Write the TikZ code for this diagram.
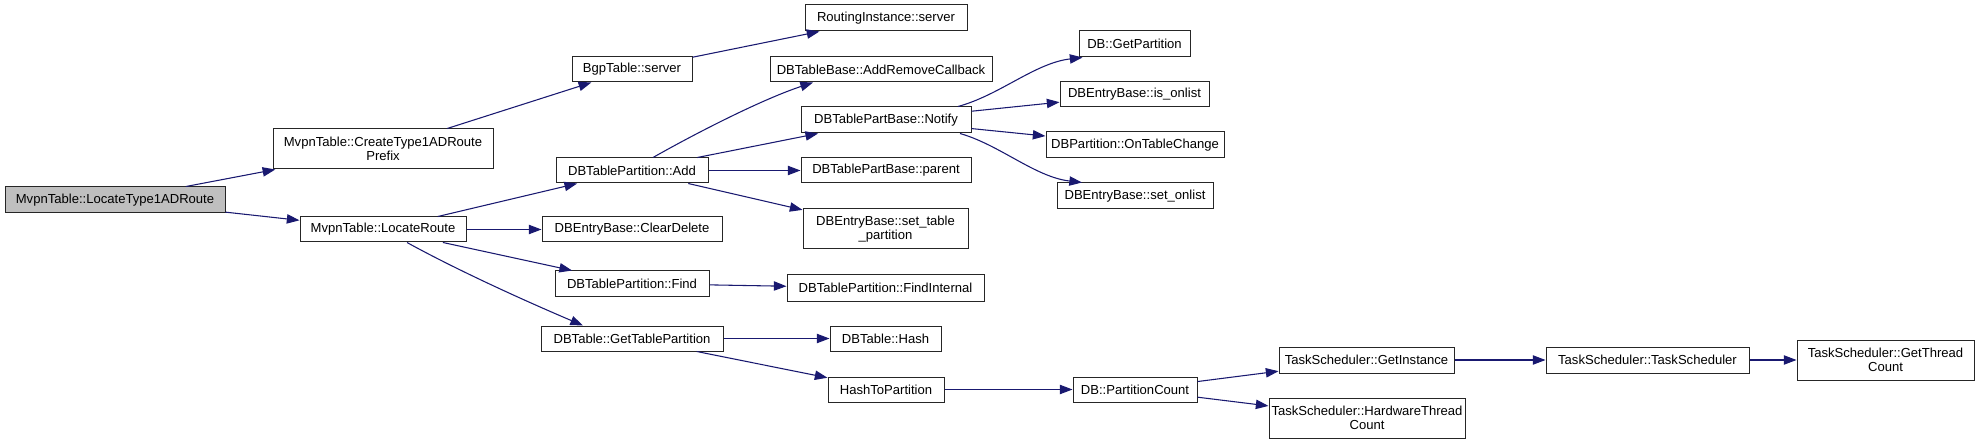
\documentclass[tikz,border=0pt]{standalone}
\usepackage{fontspec}
\setmainfont{Liberation Sans}
\usetikzlibrary{arrows.meta,calc}
\definecolor{edgeblue}{HTML}{191970}
\definecolor{rootgray}{HTML}{BFBFBF}
\begin{document}
\begin{tikzpicture}[x=0.75pt,y=-0.75pt,
  fn/.style={draw=black!85, line width=0.75pt, fill=white, inner sep=0pt, align=center, font=\fontsize{9.8}{10.8}\selectfont},
  sz/.style 2 args={minimum width=#1*0.75pt, minimum height=#2*0.75pt},
  call/.style={draw=edgeblue, line width=0.8pt, -{Triangle[length=9.5pt,width=7pt]}}]
\useasboundingbox (0,0) rectangle (1980,445);
% column 0
\node[fn,sz={220}{26},fill=rootgray] (root) at (115,200) {MvpnTable::LocateType1ADRoute};
% column 1
\node[fn,sz={220}{40}] (create) at (383,149) {MvpnTable::CreateType1ADRoute\\Prefix};
\node[fn,sz={166}{25}] (locroute) at (383,229.5) {MvpnTable::LocateRoute};
% column 2
\node[fn,sz={120}{25}] (bgp) at (632,69.5) {BgpTable::server};
\node[fn,sz={152}{25}] (add) at (632,170.5) {DBTablePartition::Add};
\node[fn,sz={180}{25}] (clear) at (632,229.5) {DBEntryBase::ClearDelete};
\node[fn,sz={154}{25}] (find) at (632,283.5) {DBTablePartition::Find};
\node[fn,sz={182}{25}] (gtp) at (632,338.5) {DBTable::GetTablePartition};
% column 3
\node[fn,sz={162}{26}] (rinst) at (886,18) {RoutingInstance::server};
\node[fn,sz={222}{25}] (arc) at (881,69.5) {DBTableBase::AddRemoveCallback};
\node[fn,sz={170}{26}] (notify) at (886,120) {DBTablePartBase::Notify};
\node[fn,sz={170}{25}] (parent) at (886,170.5) {DBTablePartBase::parent};
\node[fn,sz={165}{40}] (stp) at (885.5,229) {DBEntryBase::set\_table\\\_partition};
\node[fn,sz={197}{26}] (findint) at (885.5,288) {DBTablePartition::FindInternal};
\node[fn,sz={111}{25}] (hash) at (885.5,338.5) {DBTable::Hash};
\node[fn,sz={116}{25}] (h2p) at (886,389.5) {HashToPartition};
% column 4
\node[fn,sz={111}{26}] (getpart) at (1134.5,44) {DB::GetPartition};
\node[fn,sz={149}{25}] (isonlist) at (1134.5,94.5) {DBEntryBase::is\_onlist};
\node[fn,sz={178}{26}] (otc) at (1135,145) {DBPartition::OnTableChange};
\node[fn,sz={156}{26}] (setonlist) at (1135,196) {DBEntryBase::set\_onlist};
\node[fn,sz={124}{25}] (pc) at (1135,389.5) {DB::PartitionCount};
% column 5
\node[fn,sz={175}{26}] (gi) at (1366.5,360) {TaskScheduler::GetInstance};
\node[fn,sz={196}{40}] (hwtc) at (1367,418) {TaskScheduler::HardwareThread\\Count};
% column 6
\node[fn,sz={203}{26}] (ts) at (1647.5,360) {TaskScheduler::TaskScheduler};
% column 7
\node[fn,sz={177}{40}] (gtc) at (1885.5,360) {TaskScheduler::GetThread\\Count};
% edges
\draw[call] (root) -- (create);
\draw[call] (root) -- (locroute);
\draw[call] (create) -- (bgp);
\draw[call] (bgp) -- (rinst);
\draw[call] (locroute) -- (add);
\draw[call] (locroute) -- (clear);
\draw[call] (locroute) -- (find);
\draw[call] ($(locroute.south)+(24,0)$) .. controls (457,270) and (523,300) .. ($(gtp.north)+(-49,0)$);
\draw[call] ($(add.north)+(21,0)$) .. controls (698,132) and (763,99) .. ($(arc.south)+(-68,0)$);
\draw[call] (add) -- (notify);
\draw[call] (add) -- (parent);
\draw[call] (add) -- (stp);
\draw[call] (find) -- (findint);
\draw[call] (gtp) -- (hash);
\draw[call] (gtp) -- (h2p);
\draw[call] ($(notify.north)+(72,0)$) .. controls (1000,95) and (1035,63) .. ($(getpart.south)+(-52,0)$);
\draw[call] (notify) -- (isonlist);
\draw[call] (notify) -- (otc);
\draw[call] ($(notify.south)+(74,0)$) .. controls (1000,145) and (1035,177) .. ($(setonlist.north)+(-53,0)$);
\draw[call] (h2p) -- (pc);
\draw[call] (pc) -- (gi);
\draw[call] (pc) -- (hwtc);
\draw[call] (gi) -- (ts);
\draw[call] (ts) -- (gtc);
\end{tikzpicture}
\end{document}
